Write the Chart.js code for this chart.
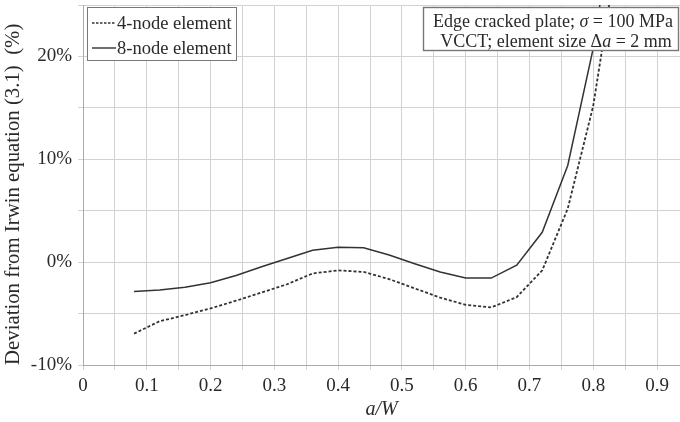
<!DOCTYPE html>
<html>
<head>
<meta charset="utf-8">
<script src="https://cdn.jsdelivr.net/npm/chart.js@4"></script>
<style>
  body { margin: 0; background: #fff; }
  #wrap { width: 680px; height: 422px; }
</style>
</head>
<body>
<div id="wrap"><canvas id="myChart"></canvas></div>
<script>
// a/W values where the deviation was computed
const aW = [0.08, 0.12, 0.16, 0.2, 0.24, 0.28, 0.32, 0.36, 0.4, 0.44,
  0.48, 0.52, 0.56, 0.6, 0.64, 0.68, 0.72, 0.76, 0.8, 0.84];
// deviation from Irwin equation (%)
const dev4Node = [-6.95, -5.75, -5.15, -4.5, -3.75, -2.95, -2.15, -1.1, -0.8, -0.95,
  -1.65, -2.55, -3.45, -4.15, -4.4, -3.4, -0.8, 5.2, 15.2, 31];
const dev8Node = [-2.85, -2.7, -2.45, -2.0, -1.3, -0.45, 0.35, 1.15, 1.45, 1.4,
  0.7, -0.15, -0.95, -1.55, -1.55, -0.3, 2.9, 9.4, 20.8, 37];

const xTickLabels = ["0", "0.1", "0.2", "0.3", "0.4", "0.5", "0.6", "0.7", "0.8", "0.9"];
const yTickLabels = ["-10%", "0%", "10%", "20%"];
const seriesNames = ["4-node element", "8-node element"];
// note box lines, as [text, italic] runs
const noteLine1 = [["Edge cracked plate; ", false], ["\u03c3", true], [" = 100 MPa", false]];
const noteLine2 = [["VCCT; element size \u0394", false], ["a", true], [" = 2 mm", false]];

const serif = "'Liberation Serif', 'DejaVu Serif', serif";
const ink = "#2a2a2a";

function drawRuns(ctx, runs, cx, cy, size) {
  let total = 0;
  runs.forEach((r) => {
    ctx.font = (r[1] ? "italic " : "") + size + "px " + serif;
    total += ctx.measureText(r[0]).width;
  });
  let x = cx - total / 2;
  runs.forEach((r) => {
    ctx.font = (r[1] ? "italic " : "") + size + "px " + serif;
    ctx.fillText(r[0], x, cy);
    x += ctx.measureText(r[0]).width;
  });
}

const boxes = {
  id: "boxes",
  afterDraw(chart) {
    const ctx = chart.ctx;
    ctx.save();
    ctx.textBaseline = "middle";

    // legend, top left
    ctx.fillStyle = "#fff";
    ctx.fillRect(87.5, 7.5, 149, 53);
    ctx.strokeStyle = "#777";
    ctx.lineWidth = 1;
    ctx.strokeRect(87.5, 7.5, 149, 53);
    const rows = [23, 48];
    rows.forEach((y, i) => {
      ctx.strokeStyle = "#333";
      ctx.lineWidth = i === 0 ? 1.6 : 1.4;
      ctx.setLineDash(i === 0 ? [2.5, 1.5] : []);
      ctx.beginPath();
      ctx.moveTo(92, y);
      ctx.lineTo(116, y);
      ctx.stroke();
      ctx.setLineDash([]);
      ctx.fillStyle = ink;
      ctx.textAlign = "left";
      ctx.font = "18.5px " + serif;
      ctx.fillText(seriesNames[i], 117, y + 1);
    });

    // note box, top right (covers the lines running off the top)
    ctx.fillStyle = "#fff";
    ctx.fillRect(423.5, 7.5, 255, 43);
    ctx.strokeStyle = "#777";
    ctx.strokeRect(423.5, 7.5, 255, 43);
    ctx.fillStyle = ink;
    ctx.textAlign = "left";
    drawRuns(ctx, noteLine1, 553, 22, 18);
    drawRuns(ctx, noteLine2, 556, 42, 18);
    ctx.restore();
  },
};

const gridColor = "#d2d2d2";

new Chart("myChart", {
  type: "line",
  data: {
    datasets: [
      {
        label: seriesNames[0],
        data: aW.map((x, i) => ({ x: x, y: dev4Node[i] })),
        borderColor: "#333",
        borderWidth: 1.8,
        borderDash: [3, 2],
        pointRadius: 0,
        tension: 0,
        fill: false,
      },
      {
        label: seriesNames[1],
        data: aW.map((x, i) => ({ x: x, y: dev8Node[i] })),
        borderColor: "#333",
        borderWidth: 1.5,
        pointRadius: 0,
        tension: 0,
        fill: false,
      },
    ],
  },
  options: {
    responsive: true,
    maintainAspectRatio: false,
    animation: false,
    layout: { padding: { top: 5, right: 0, bottom: 0, left: 0 } },
    plugins: {
      legend: { display: false },
      tooltip: { enabled: false },
    },
    scales: {
      x: {
        type: "linear",
        min: 0,
        max: 0.936,
        afterBuildTicks(scale) {
          const t = [];
          for (let i = 0; i <= 18; i++) t.push({ value: i * 0.05 });
          scale.ticks = t;
        },
        afterFit(scale) {
          scale.height = 57;
          scale.paddingLeft = 0;
          scale.paddingRight = 0;
        },
        grid: { color: gridColor, tickLength: 5 },
        border: { color: "#aaa" },
        ticks: {
          autoSkip: false,
          maxRotation: 0,
          padding: 5,
          color: ink,
          font: { family: serif, size: 19 },
          callback: (v) => {
            const k = Math.round(v * 20);
            return k % 2 === 0 ? xTickLabels[k / 2] : "";
          },
        },
        title: {
          display: true,
          text: "a/W",
          color: ink,
          font: { family: serif, size: 20, style: "italic" },
          padding: { top: 0, bottom: 0 },
        },
      },
      y: {
        min: -10,
        max: 25,
        afterFit(scale) {
          scale.width = 83;
          scale.paddingTop = 0;
          scale.paddingBottom = 0;
        },
        grid: { color: gridColor, tickLength: 5 },
        border: { color: "#aaa" },
        ticks: {
          stepSize: 5,
          padding: 6,
          color: ink,
          font: { family: serif, size: 19 },
          callback: (v) => (v % 10 === 0 ? yTickLabels[(v + 10) / 10] : ""),
        },
        title: {
          display: true,
          align: "start",
          text: "Deviation from Irwin equation (3.1)  (%)",
          color: ink,
          font: { family: serif, size: 20.8 },
          padding: { top: 1, bottom: 0 },
        },
      },
    },
  },
  plugins: [boxes],
});
</script>
</body>
</html>
